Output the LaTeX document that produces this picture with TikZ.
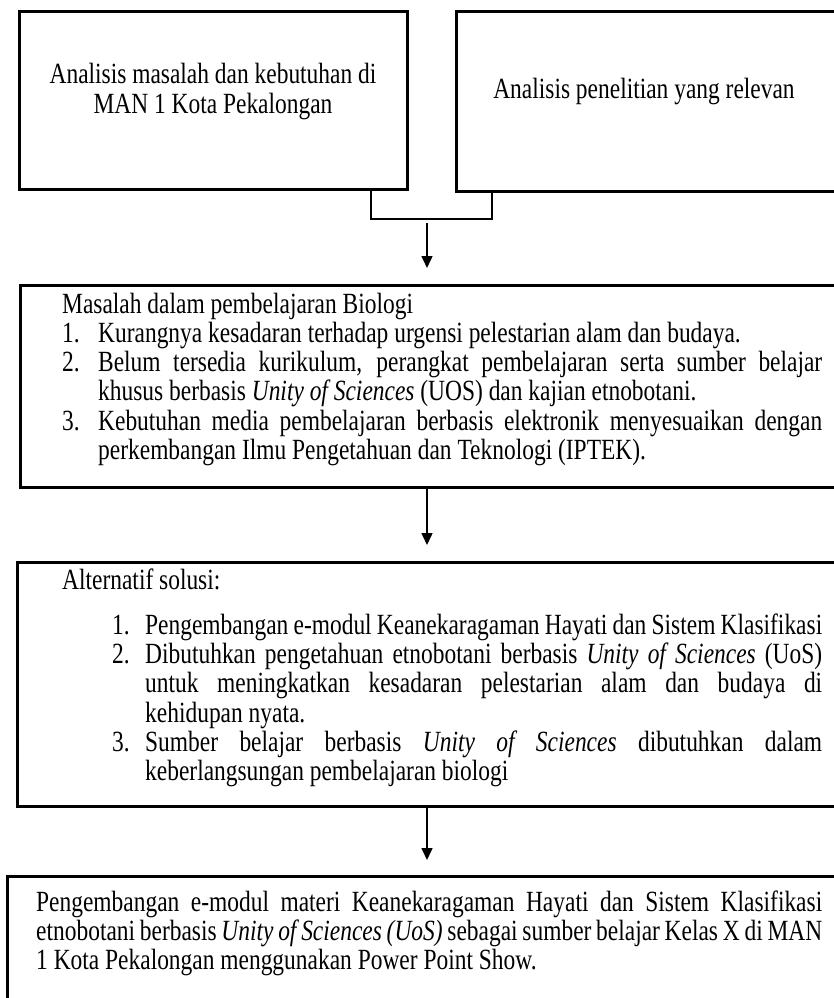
\documentclass[tikz,border=0pt]{standalone}
\usepackage{fontspec}
\setmainfont{Liberation Serif}[FakeStretch=0.80]
\usetikzlibrary{arrows.meta,calc}
\newcommand{\bodysize}{\fontsize{29.3pt}{29.3pt}\selectfont\setlength{\baselineskip}{29.3pt}}
\tikzset{
  box/.style={draw=black, line width=3.4pt, inner sep=0pt, anchor=north west},
  link/.style={line width=1.5pt},
  arr/.style={line width=1.5pt, -{Triangle[length=12pt,width=11pt]}},
  txt/.style={inner sep=0pt, anchor=base west},
  ctxt/.style={inner sep=0pt, anchor=base},
}
\begin{document}
\begin{tikzpicture}[x=1pt,y=-1pt]
\useasboundingbox (0,0) rectangle (834,998);
\clip (0,0) rectangle (834,998);
% boxes
\node[box, minimum width=388pt, minimum height=178pt] (b1) at (18,10) {};
\node[box, minimum width=385pt, minimum height=180pt] (b2) at (455,10) {};
\node[box, minimum width=822pt, minimum height=202pt] (b3) at (19,284) {};
\node[box, minimum width=825pt, minimum height=244pt] (b4) at (16,561) {};
\node[box, minimum width=835pt, minimum height=150pt] (b5) at (6,875) {};
% texts
\node[ctxt] (t1) at (213,84) {\parbox[t]{380pt}{\bodysize\centering Analisis masalah dan kebutuhan di\\MAN 1 Kota Pekalongan}};
\node[ctxt] (t2) at (644,98) {\bodysize Analisis penelitian yang relevan};
\node[txt] (t3) at (62,313) {\parbox[t]{760pt}{\bodysize
Masalah dalam pembelajaran Biologi\par
\hangindent=36pt\hangafter=1 \makebox[36pt][l]{1.}Kurangnya kesadaran terhadap urgensi pelestarian alam dan budaya.\par
\hangindent=36pt\hangafter=1 \makebox[36pt][l]{2.}Belum tersedia kurikulum, perangkat pembelajaran serta sumber belajar\linebreak khusus berbasis \textit{Unity of Sciences} (UOS) dan kajian etnobotani.\par
\hangindent=36pt\hangafter=1 \makebox[36pt][l]{3.}Kebutuhan media pembelajaran berbasis elektronik menyesuaikan dengan\linebreak perkembangan Ilmu Pengetahuan dan Teknologi (IPTEK).\par}};
\node[txt] (t4) at (62,589) {\parbox[t]{760pt}{\bodysize
Alternatif solusi:\par\vspace{16pt}
\leftskip=50pt
\hangindent=33pt\hangafter=1 \makebox[33pt][l]{1.}Pengembangan e-modul Keanekaragaman Hayati dan Sistem Klasifikasi\par
\hangindent=33pt\hangafter=1 \makebox[33pt][l]{2.}Dibutuhkan pengetahuan etnobotani berbasis \textit{Unity of Sciences} (UoS)\linebreak untuk meningkatkan kesadaran pelestarian alam dan budaya di\linebreak kehidupan nyata.\par
\hangindent=33pt\hangafter=1 \makebox[33pt][l]{3.}Sumber belajar berbasis \textit{Unity of Sciences} dibutuhkan dalam\linebreak keberlangsungan pembelajaran biologi\par}};
\node[txt] (t5) at (36,911) {\parbox[t]{786pt}{\bodysize
Pengembangan e-modul materi Keanekaragaman Hayati dan Sistem Klasifikasi\linebreak etnobotani berbasis \textit{Unity of Sciences (UoS)} sebagai sumber belajar Kelas X di MAN\linebreak 1 Kota Pekalongan menggunakan Power Point Show.\par}};
% connectors
\coordinate (jl) at (371,219);
\coordinate (jr) at (492,219);
\coordinate (a1) at (427,223);
\draw[link] (b1.south -| jl) -- (jl) -- (jr) -- (b2.south -| jr);
\draw[arr] (a1) -- ($(b3.north -| a1)+(0,-16)$);
\draw[arr] (b3.south -| a1) -- ($(b4.north -| a1)+(0,-16)$);
\draw[arr] (b4.south -| a1) -- ($(b5.north -| a1)+(0,-15)$);
\end{tikzpicture}
\end{document}
